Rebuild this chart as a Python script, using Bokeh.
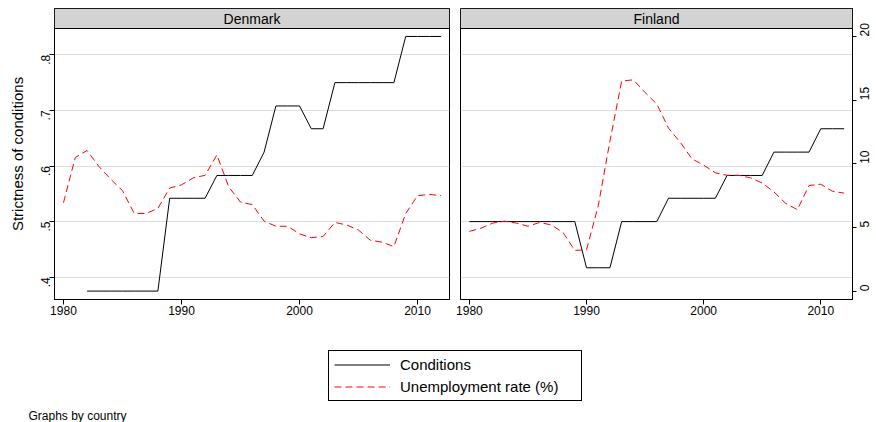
import math
from bokeh.plotting import figure
from bokeh.layouts import row, column
from bokeh.models import (Range1d, LinearAxis, FixedTicker, Grid, BoxAnnotation,
                          Label, Legend, LegendItem)
from bokeh.embed import file_html
from bokeh.resources import INLINE

nan = float("nan")

years = [1980, 1981, 1982, 1983, 1984, 1985, 1986, 1987, 1988, 1989,
         1990, 1991, 1992, 1993, 1994, 1995, 1996, 1997, 1998, 1999,
         2000, 2001, 2002, 2003, 2004, 2005, 2006, 2007, 2008, 2009,
         2010, 2011, 2012]

countries = ["Denmark", "Finland"]

denmark_conditions = [nan, nan, 0.375, 0.375, 0.375, 0.375, 0.375, 0.375, 0.375, 0.542,
                      0.542, 0.542, 0.542, 0.583, 0.583, 0.583, 0.583, 0.625, 0.708, 0.708,
                      0.708, 0.667, 0.667, 0.750, 0.750, 0.750, 0.750, 0.750, 0.750, 0.833,
                      0.833, 0.833, 0.833]
denmark_unemployment = [6.95, 10.5, 11.05, 9.8, 8.8, 7.9, 6.1, 6.1, 6.5, 8.1,
                        8.35, 8.9, 9.1, 10.7, 8.2, 7.0, 6.8, 5.5, 5.1, 5.1,
                        4.5, 4.2, 4.3, 5.4, 5.2, 4.8, 4.0, 3.85, 3.5, 6.1,
                        7.5, 7.6, 7.5]

finland_conditions = [0.500, 0.500, 0.500, 0.500, 0.500, 0.500, 0.500, 0.500, 0.500, 0.500,
                      0.417, 0.417, 0.417, 0.500, 0.500, 0.500, 0.500, 0.542, 0.542, 0.542,
                      0.542, 0.542, 0.583, 0.583, 0.583, 0.583, 0.625, 0.625, 0.625, 0.625,
                      0.667, 0.667, 0.667]
finland_unemployment = [4.7, 4.95, 5.35, 5.5, 5.35, 5.1, 5.4, 5.2, 4.6, 3.2,
                        3.25, 6.7, 11.8, 16.5, 16.6, 15.6, 14.7, 12.8, 11.7, 10.4,
                        9.9, 9.3, 9.1, 9.1, 8.9, 8.5, 7.8, 6.9, 6.4, 8.3,
                        8.4, 7.85, 7.7]

year_ticks = [1980, 1990, 2000, 2010]
cond_ticks = [0.4, 0.5, 0.6, 0.7, 0.8]
cond_tick_labels = [".4", ".5", ".6", ".7", ".8"]
unemp_ticks = [0, 5, 10, 15, 20]
unemp_tick_labels = ["0", "5", "10", "15", "20"]

series_names = ["Conditions", "Unemployment rate (%)"]
y_title = "Strictness of conditions"
note = "Graphs by country"

FONT = "Liberation Sans"

# axis ranges (plot area + strip on top)
X0, X1 = 1979.24, 2012.71
C0, C_STRIP, C1 = 0.3599, 0.8473, 0.8833
U0, U1 = -0.652, 22.2

FRAME_W = 395
PANEL_H = 329


def style_axis(ax, tick_out, standoff, orientation=None):
    ax.minor_tick_line_color = None
    ax.major_tick_in = 0
    ax.major_tick_out = tick_out
    ax.major_tick_line_color = "black"
    ax.axis_line_color = "black"
    ax.major_label_text_font = FONT
    ax.major_label_text_font_size = "12px"
    ax.major_label_text_color = "black"
    ax.major_label_standoff = standoff
    if orientation is not None:
        ax.major_label_orientation = orientation


def make_panel(name, cond, unemp, left_axis, right_axis, width, min_left, min_right):
    p = figure(width=width, height=PANEL_H, output_backend="svg", toolbar_location=None,
               x_range=Range1d(X0, X1), y_range=Range1d(C0, C1),
               y_axis_location="left" if left_axis else None,
               min_border_left=min_left, min_border_right=min_right,
               min_border_top=8, min_border_bottom=30)
    p.extra_y_ranges = {"u": Range1d(U0, U1)}
    p.grid.visible = False
    p.outline_line_color = "black"
    p.outline_line_width = 1
    p.outline_line_alpha = 1
    p.background_fill_color = "white"
    p.border_fill_color = "white"

    p.add_layout(Grid(dimension=1, ticker=FixedTicker(ticks=cond_ticks),
                      grid_line_color="#dedede", grid_line_width=1))

    xax = p.xaxis[0]
    xax.ticker = FixedTicker(ticks=year_ticks)
    style_axis(xax, 5, 1)

    if left_axis:
        ax = p.yaxis[0]
        ax.ticker = FixedTicker(ticks=cond_ticks)
        ax.major_label_overrides = dict(zip(cond_ticks, cond_tick_labels))
        style_axis(ax, 5, 4, math.pi / 2)
        ax.axis_label = y_title
        ax.axis_label_text_font = FONT
        ax.axis_label_text_font_style = "normal"
        ax.axis_label_text_font_size = "15px"
        ax.axis_label_text_color = "black"
        ax.axis_label_standoff = 8

    if right_axis:
        rax = LinearAxis(y_range_name="u", ticker=FixedTicker(ticks=unemp_ticks))
        rax.major_label_overrides = dict(zip(unemp_ticks, unemp_tick_labels))
        style_axis(rax, 4, 8, math.pi / 2)
        p.add_layout(rax, "right")

    p.line(years, cond, line_color="black", line_width=1)
    p.line(years, unemp, line_color="red", line_width=1, line_dash="7 4",
           y_range_name="u")

    strip = BoxAnnotation(bottom=C_STRIP, top=C1, fill_color="#d3d3d3", fill_alpha=1,
                          line_color="black", line_width=1, line_alpha=1)
    p.add_layout(strip)
    p.add_layout(Label(x=(X0 + X1) / 2, y=(C_STRIP + C1) / 2, text=name,
                       text_align="center", text_baseline="middle",
                       text_font=FONT, text_font_size="14px", text_color="black"))
    return p


p1 = make_panel(countries[0], denmark_conditions, denmark_unemployment,
                True, False, 54 + FRAME_W + 5, 54, 5)
p2 = make_panel(countries[1], finland_conditions, finland_unemployment,
                False, True, 6 + FRAME_W + 21, 6, 21)

# legend / note strip
LW, LH = 876, 93
p3 = figure(width=LW, height=LH, output_backend="svg", toolbar_location=None,
            x_range=Range1d(0, LW), y_range=Range1d(0, LH),
            x_axis_location=None, y_axis_location=None,
            min_border=0, min_border_left=0, min_border_right=0,
            min_border_top=0, min_border_bottom=0)
p3.grid.visible = False
p3.outline_line_color = None
# legend glyph renderers: real series, lying outside this strip's visible ranges
r1 = p3.line(years, finland_conditions, line_color="black", line_width=1)
r2 = p3.line(years, finland_unemployment, line_color="red", line_width=1, line_dash="7 4")
legend = Legend(items=[LegendItem(label=series_names[0], renderers=[r1]),
                       LegendItem(label=series_names[1], renderers=[r2])],
                location=(328, 21), orientation="vertical", margin=0,
                padding=5, spacing=5, glyph_width=56, glyph_height=17,
                label_height=17, label_width=176, label_standoff=10,
                label_text_font=FONT, label_text_font_size="15px",
                label_text_color="black",
                border_line_color="black", border_line_width=1, border_line_alpha=1,
                background_fill_color="white", background_fill_alpha=1)
p3.add_layout(legend)
p3.add_layout(Label(x=28, y=6.5, text=note, text_align="left", text_baseline="middle",
                    text_font=FONT, text_font_size="12px", text_color="black"))

layout = column(row(p1, p2), p3)

open("out.html", "w").write(file_html(layout, INLINE))
